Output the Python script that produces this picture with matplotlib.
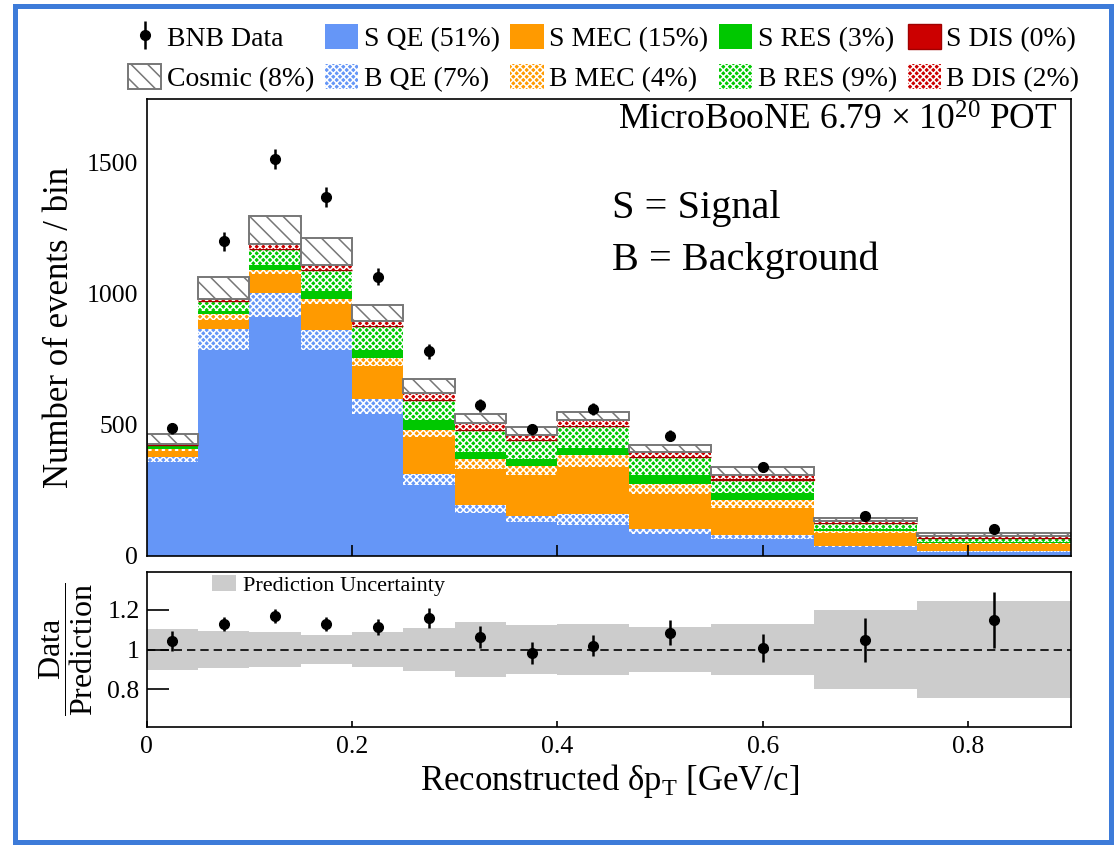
import numpy as np
import matplotlib
matplotlib.use('Agg')
import matplotlib.pyplot as plt
from matplotlib.patches import Patch, Rectangle

plt.rcParams['font.family'] = ['Liberation Serif', 'DejaVu Serif']
plt.rcParams['mathtext.fontset'] = 'custom'
plt.rcParams['mathtext.rm'] = 'Liberation Serif'
plt.rcParams['mathtext.it'] = 'Liberation Serif:italic'
plt.rcParams['hatch.linewidth'] = 1.1

# binning in reconstructed dpT [GeV/c]
bin_edges = [0, 0.05, 0.1, 0.15, 0.2, 0.25, 0.3, 0.35, 0.4, 0.47, 0.55, 0.65, 0.75, 0.9]

# stacked prediction, events per bin (bottom to top)
s_qe = [358, 783, 910, 786, 540, 269, 162, 130, 117, 83, 63, 35, 16]
b_qe = [19, 80, 91, 76, 56, 42, 31, 21, 42, 18, 16, 2, 2]
s_mec = [22, 37, 72, 96, 126, 142, 140, 157, 178, 134, 102, 51, 27]
b_mec = [10, 20, 17, 22, 30, 28, 38, 34, 47, 38, 31, 6, 5]
s_res = [9, 13, 17, 29, 31, 38, 25, 29, 29, 35, 26, 10, 4]
b_res = [4, 36, 60, 79, 92, 74, 83, 70, 81, 69, 53, 20, 15]
s_dis = [1, 1, 2, 2, 2, 2, 2, 1, 1, 1, 1, 0, 0]
b_dis = [5, 9, 18, 17, 17, 26, 26, 20, 24, 18, 16, 8, 7]
cosmic = [38, 84, 109, 105, 61, 51, 33, 29, 29, 26, 29, 13, 12]

# BNB data
data = [486, 1198, 1512, 1366, 1063, 779, 574, 482, 559, 458, 339, 152, 101]
data_err = [22, 35, 39, 37, 33, 28, 24, 22, 24, 21, 18, 12, 10]

# ratio panel
ratio_err = [0.05, 0.036, 0.035, 0.035, 0.04, 0.05, 0.057, 0.056, 0.054, 0.064, 0.07, 0.11, 0.142]
pred_unc = [0.105, 0.095, 0.09, 0.075, 0.088, 0.107, 0.136, 0.121, 0.13, 0.115, 0.128, 0.2, 0.243]

labels = {
    'sqe': 'S QE (51%)', 'smec': 'S MEC (15%)', 'sres': 'S RES (3%)', 'sdis': 'S DIS (0%)',
    'bqe': 'B QE (7%)', 'bmec': 'B MEC (4%)', 'bres': 'B RES (9%)', 'bdis': 'B DIS (2%)',
    'cos': 'Cosmic (8%)',
}

c_blue = '#6596f7'
c_orange = '#ff9a00'
c_green = '#00c800'
c_red = '#cc0000'


def solid(c):
    return dict(facecolor=c, edgecolor=c, linewidth=0)


def hatched(c):
    return dict(facecolor=c, edgecolor='white', hatch='xxxxx', linewidth=0)


stack = [
    ('sqe', s_qe, solid(c_blue)),
    ('bqe', b_qe, hatched(c_blue)),
    ('smec', s_mec, solid(c_orange)),
    ('bmec', b_mec, hatched(c_orange)),
    ('sres', s_res, solid(c_green)),
    ('bres', b_res, hatched(c_green)),
    ('sdis', s_dis, dict(facecolor=c_red, edgecolor='#a00000', linewidth=1.0)),
    ('bdis', b_dis, hatched(c_red)),
    ('cos', cosmic, dict(facecolor='white', edgecolor='#777777', hatch='\\\\', linewidth=1.4)),
]

edges = np.array(bin_edges)
lefts = edges[:-1]
widths = np.diff(edges)
centers = lefts + widths / 2

fig = plt.figure(figsize=(11.18, 8.46), dpi=100)
ax = fig.add_axes([0.1312, 0.3428, 0.8265, 0.5402])
axr = fig.add_axes([0.1312, 0.1403, 0.8265, 0.1839])

# stacked histogram
bottom = np.zeros(len(lefts))
handles = {}
for key, vals, style in stack:
    handles[key] = ax.bar(lefts, vals, width=widths, bottom=bottom, align='edge', **style)
    bottom = bottom + np.array(vals)
total = bottom

dh = ax.errorbar(centers, data, yerr=data_err, fmt='o', color='black', ms=7,
                 elinewidth=1.8, capsize=0, zorder=5)

ax.set_xlim(0, 0.9)
ax.set_ylim(0, 1740)
ax.set_xticks([0.2, 0.4, 0.6, 0.8])
ax.set_yticks([0, 500, 1000, 1500])
ax.tick_params(axis='x', direction='in', length=8, width=1.2, labelbottom=False)
ax.tick_params(axis='y', length=0, labelsize=18.5, pad=6)
ax.set_axisbelow(False)
for sp in ax.spines.values():
    sp.set_linewidth(1.2)

ax.text(0.986, 0.932, 'MicroBooNE 6.79 \u00d7 10$^{20}$ POT', transform=ax.transAxes,
        ha='right', va='baseline', fontsize=25.5)
ax.text(0.504, 0.7396, 'S = Signal', transform=ax.transAxes, va='baseline', fontsize=29)
ax.text(0.504, 0.6258, 'B = Background', transform=ax.transAxes, va='baseline', fontsize=29)

# legend on top, column major order
order = ['cos', 'sqe', 'bqe', 'smec', 'bmec', 'sres', 'bres', 'sdis', 'bdis']
leg_handles = [dh] + [handles[k] for k in order]
leg_labels = ['BNB Data'] + [labels[k] for k in order]
fig.legend(leg_handles, leg_labels, ncol=5, loc='upper left',
           bbox_to_anchor=(128 / 1118, 1 - 24 / 846), frameon=False, fontsize=20,
           handlelength=1.2, handleheight=1.0, handletextpad=0.2, columnspacing=0.38,
           borderpad=0, borderaxespad=0, labelspacing=0.45)

# ratio panel
ratio = np.array(data) / total
unc = np.array(pred_unc)
band = axr.bar(lefts, 2 * unc, width=widths, bottom=1 - unc, align='edge',
               color='#cccccc', linewidth=0, zorder=1)
axr.axhline(1, color='black', lw=1.2, ls=(0, (5, 3)), zorder=2)
axr.errorbar(centers, ratio, yerr=ratio_err, fmt='o', color='black', ms=7,
             elinewidth=1.8, capsize=0, zorder=5)
axr.set_xlim(0, 0.9)
axr.set_ylim(0.61, 1.39)
axr.set_yticks([0.8, 1, 1.2])
axr.set_yticklabels(['0.8', '1', '1.2'])
axr.set_xticks([0, 0.2, 0.4, 0.6, 0.8])
axr.set_xticklabels(['0', '0.2', '0.4', '0.6', '0.8'])
axr.tick_params(axis='y', direction='in', length=16, width=1.2, labelsize=18.5, pad=5)
axr.tick_params(axis='x', direction='in', length=4, width=1.2, labelsize=18.5, pad=6)
axr.set_axisbelow(False)
for sp in axr.spines.values():
    sp.set_linewidth(1.2)
axr.legend([Patch(facecolor='#cccccc', linewidth=0)], ['Prediction Uncertainty'],
           loc='center left', bbox_to_anchor=(0.0703, 0.911), frameon=False, fontsize=16,
           handlelength=1.1, handleheight=0.7, handletextpad=0.3, borderpad=0,
           borderaxespad=0)

# axis titles
fig.text(60 / 1118, 1 - 327 / 846, 'Number of events / bin', rotation=90,
         ha='center', va='center', fontsize=25)
fig.text(66 / 1118, 1 - 649 / 846, r'$\dfrac{\mathrm{Data}}{\mathrm{Prediction}}$',
         rotation=90, ha='center', va='center', fontsize=23)
fig.text(610 / 1118, 1 - 790 / 846, r'Reconstructed $\mathrm{\delta p_{T}}$ [GeV/c]',
         ha='center', va='baseline', fontsize=25)

# blue frame around the whole picture
fig.add_artist(Rectangle((15 / 1118, 4 / 846), (1111 - 15) / 1118, (842 - 6) / 846,
                         transform=fig.transFigure, fill=False, edgecolor='#3d7bd9',
                         linewidth=3.6))

fig.savefig('out.png', dpi=100)
